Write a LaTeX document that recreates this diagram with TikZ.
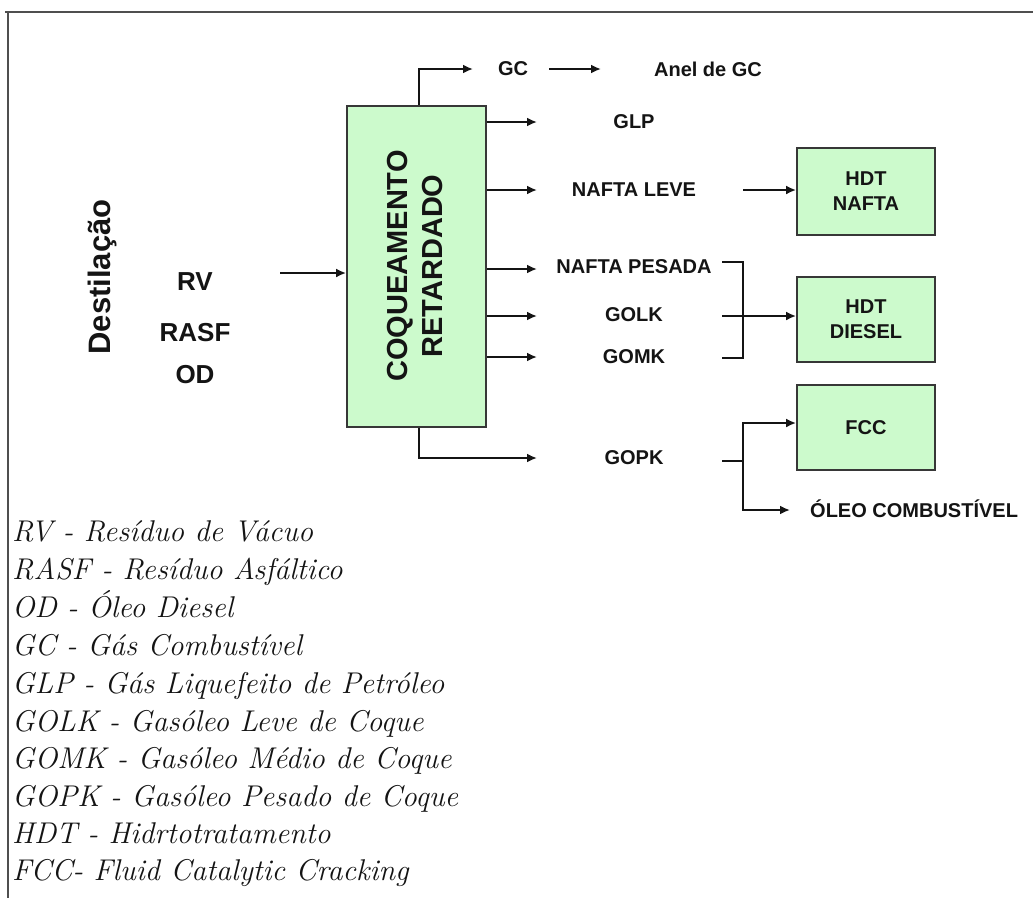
\documentclass[tikz,border=0pt]{standalone}
\usepackage{fontspec}
\newfontfamily\arialf{Liberation Sans}
\usetikzlibrary{arrows.meta,calc}
\definecolor{boxgreen}{RGB}{204,250,204}
\definecolor{ink}{RGB}{20,20,20}
\begin{document}
\begin{tikzpicture}[x=1pt,y=-1pt,
  flow/.style={line width=2.6pt, draw=ink, -{Latex[length=10pt,width=9pt]}},
  pipe/.style={line width=2.6pt, draw=ink},
  unit/.style={draw=ink!85, line width=1.8pt, fill=boxgreen, inner sep=0pt},
  lbl/.style={font=\arialf\bfseries\fontsize{20}{24}\selectfont, text=ink, inner sep=0pt},
  unitlbl/.style={font=\arialf\bfseries\fontsize{20}{25}\selectfont, text=ink, align=center, inner sep=0pt},
  legend/.style={font=\itshape\fontsize{30}{36}\selectfont, text=ink, anchor=base west, inner sep=0pt}]
\useasboundingbox (0,0) rectangle (1033,898);
\fill[white] (0,0) rectangle (1033,898);
% frame
\draw[line width=2.4pt, ink!75] (5,12) -- (1033,12);
\draw[line width=2.4pt, ink!75] (8,12) -- (8,898);

% main unit
\node[unit, minimum width=139pt, minimum height=321pt] (coq) at (416.5,266.5) {};
\node[rotate=90, anchor=base, font=\arialf\bfseries\fontsize{29}{30}\selectfont, text=ink, inner sep=0pt] (coq1) at (407,266) {COQUEAMENTO};
\node[rotate=90, anchor=base, font=\arialf\bfseries\fontsize{29}{30}\selectfont, text=ink, inner sep=0pt] (coq2) at (442,266) {RETARDADO};

% feed
\node[rotate=90, anchor=base, font=\arialf\bfseries\fontsize{31}{32}\selectfont, text=ink, inner sep=0pt] (dest) at (110,277) {Destilação};
\node[lbl, font=\arialf\bfseries\fontsize{26}{28}\selectfont] (rv) at (195,282) {RV};
\node[lbl, font=\arialf\bfseries\fontsize{26}{28}\selectfont] (rasf) at (195,333) {RASF};
\node[lbl, font=\arialf\bfseries\fontsize{26}{28}\selectfont] (od) at (195,375) {OD};
\coordinate (feed) at (280,273);
\draw[flow] (feed) -- (feed -| coq.west);

% product labels
\node[lbl] (gc) at (513,69) {GC};
\node[lbl] (anel) at (708,69) {Anel de GC};
\node[lbl] (glp) at (634,122) {GLP};
\node[lbl] (nl) at (634,190) {NAFTA LEVE};
\node[lbl] (np) at (634,267) {NAFTA PESADA};
\node[lbl] (golk) at (634,315) {GOLK};
\node[lbl] (gomk) at (634,357) {GOMK};
\node[lbl] (gopk) at (634,458) {GOPK};

% downstream units
\node[unit, minimum width=138pt, minimum height=87pt] (hdtn) at (866,191.5) {};
\node[unitlbl] (hdtnl) at (hdtn.center) {HDT\\NAFTA};
\node[unit, minimum width=138pt, minimum height=85pt] (hdtd) at (866,319.5) {};
\node[unitlbl] (hdtdl) at (hdtd.center) {HDT\\DIESEL};
\node[unit, minimum width=138pt, minimum height=85pt] (fcc) at (866,427.5) {};
\node[unitlbl] (fccl) at (fcc.center) {FCC};
\node[lbl, anchor=west] (oc) at (810,509) {ÓLEO COMBUSTÍVEL};

% coker outputs
\coordinate (gctop) at ($(coq.north west)+(73,0)$);
\coordinate (gcend) at (473,69);
\draw[flow] (gctop) |- (gcend);
\coordinate (gc2a) at (549,69);
\coordinate (gc2b) at (601,69);
\draw[flow] (gc2a) -- (gc2b);
\coordinate (glpend) at (537,122);
\draw[flow] (coq.east |- glpend) -- (glpend);
\coordinate (nlend) at (537,190);
\draw[flow] (coq.east |- nlend) -- (nlend);
\coordinate (npend) at (537,269);
\draw[flow] (coq.east |- npend) -- (npend);
\coordinate (golkend) at (537,316);
\draw[flow] (coq.east |- golkend) -- (golkend);
\coordinate (gomkend) at (537,357);
\draw[flow] (coq.east |- gomkend) -- (gomkend);
\coordinate (gopkbot) at ($(coq.south west)+(73,0)$);
\coordinate (gopkend) at (537,458);
\draw[flow] (gopkbot) |- (gopkend);

% to downstream units
\coordinate (nlout) at (743,190);
\draw[flow] (nlout) -- (nlout -| hdtn.west);
\coordinate (bt) at (722,262);
\coordinate (bb) at (722,358);
\draw[pipe] (bt) -- ++(21,0) |- (bb);
\coordinate (golkout) at (722,316);
\draw[flow] (golkout) -- (golkout -| hdtd.west);
\coordinate (gopkout) at (722,461);
\coordinate (split) at (743,461);
\draw[pipe] (gopkout) -- (split);
\coordinate (fccin) at (743,423);
\draw[flow] (split) -- (fccin) -- (fccin -| fcc.west);
\coordinate (ocin) at (743,510);
\draw[flow] (split) -- (ocin) -- (790,510);

% legend
\node[legend] (l1) at (12,541) {RV - Resíduo de Vácuo};
\node[legend] (l2) at (12,579) {RASF - Resíduo Asfáltico};
\node[legend] (l3) at (12,617) {OD - Óleo Diesel};
\node[legend] (l4) at (12,655) {GC - Gás Combustível};
\node[legend] (l5) at (12,693) {GLP - Gás Liquefeito de Petróleo};
\node[legend] (l6) at (12,731) {GOLK - Gasóleo Leve de Coque};
\node[legend] (l7) at (12,768) {GOMK - Gasóleo Médio de Coque};
\node[legend] (l8) at (12,806) {GOPK - Gasóleo Pesado de Coque};
\node[legend] (l9) at (12,843) {HDT - Hidrtotratamento};
\node[legend] (l10) at (12,880) {FCC- Fluid Catalytic Cracking};
\end{tikzpicture}
\end{document}
